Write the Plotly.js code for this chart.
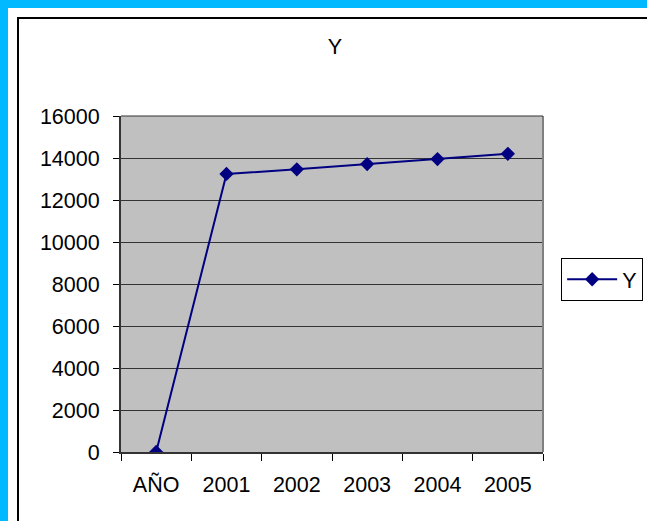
<!DOCTYPE html>
<html>
<head>
<meta charset="utf-8">
<script src="https://cdn.plot.ly/plotly-3.0.1.min.js"></script>
<style>
  html, body { margin: 0; padding: 0; width: 647px; height: 521px; overflow: hidden; background: #00B9FF; }
  #white { position: absolute; left: 8px; top: 8px; width: 639px; height: 513px; background: #ffffff; }
  #frame { position: absolute; left: 17px; top: 17px; width: 630px; height: 504px; border-left: 2px solid #000; border-top: 2px solid #000; }
  #chart { position: absolute; left: 0; top: 0; width: 647px; height: 521px; }
</style>
</head>
<body>
<div id="white"></div>
<div id="frame"></div>
<div id="chart"></div>
<script>
const categories = ["AÑO", "2001", "2002", "2003", "2004", "2005"];
const yValues = [0, 13240, 13460, 13710, 13950, 14200];
const yTickVals = [0, 2000, 4000, 6000, 8000, 10000, 12000, 14000, 16000];
const seriesName = "Y";
const chartTitle = "Y";

const font = { family: "Liberation Sans, Arial, sans-serif", size: 21.5, color: "#000" };

const trace = {
  type: "scatter",
  mode: "lines+markers",
  x: categories,
  y: yValues,
  name: seriesName,
  line: { color: "#000080", width: 2 },
  marker: { symbol: "diamond", size: 11, color: "#000080" }
};

const layout = {
  width: 647,
  height: 521,
  margin: { l: 121, r: 104, t: 116, b: 69, autoexpand: false },
  paper_bgcolor: "rgba(0,0,0,0)",
  plot_bgcolor: "#C0C0C0",
  font: font,
  title: { text: chartTitle, font: font, x: 335 / 647, xref: "container", xanchor: "center", y: 1 - 46 / 521, yref: "container", yanchor: "middle" },
  showlegend: true,
  legend: {
    x: 1.043, xanchor: "left", y: 0.578, yanchor: "top",
    bgcolor: "#ffffff", bordercolor: "#000", borderwidth: 1,
    itemwidth: 50,
    font: font
  },
  xaxis: {
    type: "category",
    range: [-0.5, 5.5],
    tickson: "boundaries",
    ticks: "outside", ticklen: 7, tickwidth: 1, tickcolor: "#000",
    showline: true, linecolor: "#333", linewidth: 2,
    showgrid: false, zeroline: false,
    tickfont: font,
    ticklabelstandoff: 12,
    fixedrange: true
  },
  yaxis: {
    range: [0, 16000],
    tickvals: yTickVals,
    ticktext: yTickVals.map(String),
    ticks: "outside", ticklen: 6, tickwidth: 1, tickcolor: "#000",
    showline: true, linecolor: "#333", linewidth: 2,
    showgrid: true, gridcolor: "#333", gridwidth: 1,
    zeroline: false,
    tickfont: font,
    ticklabelstandoff: 9,
    fixedrange: true
  },
  shapes: [
    { type: "line", xref: "paper", yref: "paper", x0: 1, x1: 1, y0: 0, y1: 1, line: { color: "#808080", width: 2 } },
    { type: "line", xref: "paper", yref: "paper", x0: 0, x1: 1, y0: 1, y1: 1, line: { color: "#333", width: 1 } }
  ]
};

Plotly.newPlot("chart", [trace], layout, { displayModeBar: false, staticPlot: true });
</script>
</body>
</html>
